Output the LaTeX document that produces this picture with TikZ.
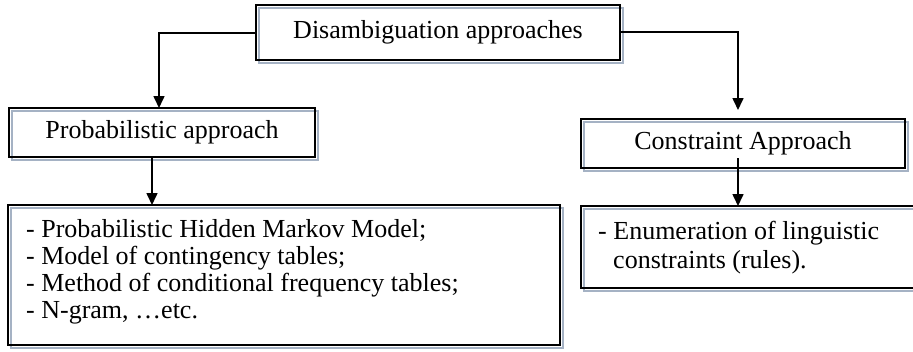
\documentclass[tikz,border=0pt]{standalone}
\usepackage{fontspec}
\setmainfont{Liberation Serif}
\usetikzlibrary{arrows.meta,calc}
\definecolor{shadowgray}{RGB}{165,178,196}
\tikzset{
  conn/.style={line width=1.6pt},
  arr/.style={conn,-{Triangle[length=12pt,width=11pt]}},
  txt/.style={inner sep=0pt,font=\fontsize{26}{28}\selectfont},
  ltxt/.style={txt,anchor=base west},
}
\newcommand{\shadowbox}[2]{%
  \draw[shadowgray,line width=1.8pt] ($(#1)+(3,3)$) rectangle ($(#2)+(3,3)$);
  \draw[black,line width=2pt] (#1) rectangle (#2);
}
\begin{document}
\begin{tikzpicture}[x=1pt,y=-1pt]
\useasboundingbox (0,0) rectangle (913,351);
% boxes
\coordinate (t1) at (256,5); \coordinate (t2) at (620,60);
\coordinate (p1) at (9,108); \coordinate (p2) at (315,157);
\coordinate (c1) at (581,119); \coordinate (c2) at (905,168);
\coordinate (l1) at (8,205); \coordinate (l2) at (560,345);
\coordinate (r1) at (581,206); \coordinate (r2) at (914,288);
\shadowbox{t1}{t2}
\shadowbox{p1}{p2}
\shadowbox{c1}{c2}
\shadowbox{l1}{l2}
\shadowbox{r1}{r2}
% texts
\node[txt] (top) at (438,32.5) {Disambiguation approaches};
\node[txt] (prob) at (162,132.5) {Probabilistic approach};
\node[txt] (cons) at (743,143.5) {Constraint Approach};
\node[ltxt] (pl1) at (26,237) {- Probabilistic Hidden Markov Model;};
\node[ltxt] (pl2) at (26,264) {- Model of contingency tables;};
\node[ltxt] (pl3) at (26,291) {- Method of conditional frequency tables;};
\node[ltxt] (pl4) at (26,318) {- N-gram, \ldots etc.};
\node[ltxt] (cl1) at (598,239) {- Enumeration of linguistic};
\node[ltxt] (cl2) at (613,268) {constraints (rules).};
% connectors
\coordinate (tw) at (256,33);
\coordinate (te) at (620,32);
\coordinate (lb) at (159,33);
\coordinate (lt) at (159,108);
\coordinate (rb) at (738,32);
\coordinate (rt) at (738,110);
\coordinate (ps) at (152,157);
\coordinate (pe) at (152,205);
\coordinate (cs) at (738,158);
\coordinate (ce) at (738,206);
\draw[arr] (tw) -- (lb) -- (lt);
\draw[arr] (te) -- (rb) -- (rt);
\draw[arr] (ps) -- (pe);
\draw[arr] (cs) -- (ce);
\end{tikzpicture}
\end{document}
